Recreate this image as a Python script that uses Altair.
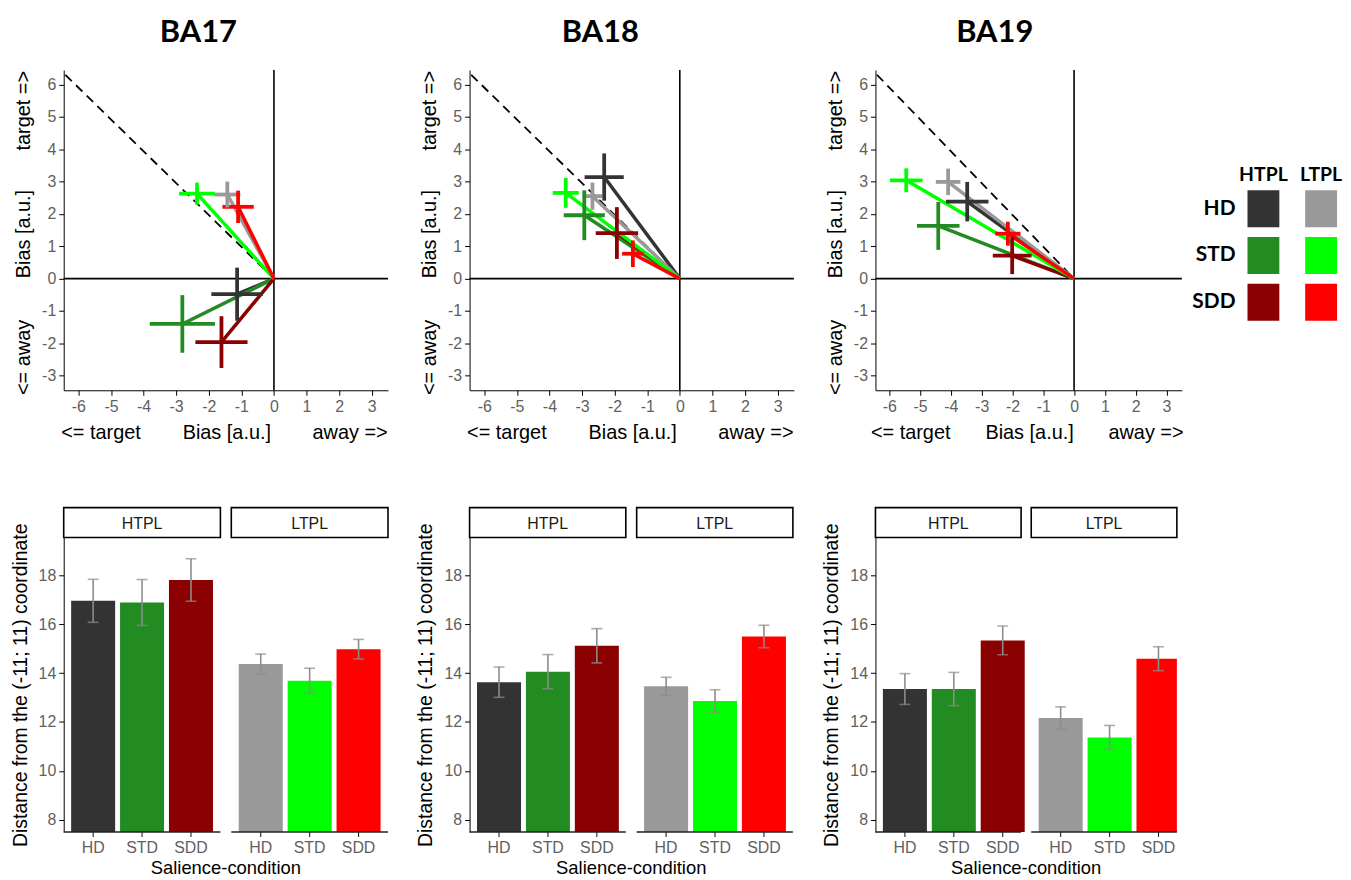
import altair as alt
import pandas as pd

REGIONS = ["BA17", "BA18", "BA19"]
TPLS = ["HTPL", "LTPL"]
CONDS = ["HD", "STD", "SDD"]
HTPL_COLORS = ["#333333", "#228B22", "#8B0000"]
LTPL_COLORS = ["#999999", "#00FF00", "#FF0000"]

# ---- bias (top) panels: order HD, STD, SDD ----
BA17_HTPL_X = [-1.13, -2.81, -1.61]
BA17_HTPL_Y = [-0.48, -1.40, -1.96]
BA17_HTPL_XERR = [0.79, 1.00, 0.80]
BA17_HTPL_YERR = [0.82, 0.89, 0.80]
BA17_LTPL_X = [-1.43, -2.36, -1.10]
BA17_LTPL_Y = [2.60, 2.63, 2.22]
BA17_LTPL_XERR = [0.40, 0.55, 0.48]
BA17_LTPL_YERR = [0.40, 0.34, 0.50]

BA18_HTPL_X = [-2.32, -2.93, -1.93]
BA18_HTPL_Y = [3.14, 1.96, 1.41]
BA18_HTPL_XERR = [0.60, 0.63, 0.65]
BA18_HTPL_YERR = [0.73, 0.77, 0.80]
BA18_LTPL_X = [-2.68, -3.50, -1.44]
BA18_LTPL_Y = [2.55, 2.65, 0.77]
BA18_LTPL_XERR = [0.30, 0.40, 0.33]
BA18_LTPL_YERR = [0.42, 0.46, 0.41]

BA19_HTPL_X = [-3.47, -4.41, -2.01]
BA19_HTPL_Y = [2.38, 1.63, 0.71]
BA19_HTPL_XERR = [0.69, 0.69, 0.63]
BA19_HTPL_YERR = [0.61, 0.74, 0.57]
BA19_LTPL_X = [-4.09, -5.45, -2.15]
BA19_LTPL_Y = [2.99, 3.04, 1.39]
BA19_LTPL_XERR = [0.40, 0.53, 0.41]
BA19_LTPL_YERR = [0.41, 0.37, 0.37]

# ---- distance (bottom) panels ----
BA17_HTPL_MEAN = [16.96, 16.89, 17.81]
BA17_HTPL_SE = [0.88, 0.94, 0.87]
BA17_LTPL_MEAN = [14.37, 13.69, 14.98]
BA17_LTPL_SE = [0.41, 0.51, 0.40]
BA18_HTPL_MEAN = [13.63, 14.06, 15.12]
BA18_HTPL_SE = [0.62, 0.70, 0.70]
BA18_LTPL_MEAN = [13.46, 12.86, 15.50]
BA18_LTPL_SE = [0.37, 0.46, 0.46]
BA19_HTPL_MEAN = [13.35, 13.35, 15.34]
BA19_HTPL_SE = [0.63, 0.68, 0.59]
BA19_LTPL_MEAN = [12.16, 11.37, 14.59]
BA19_LTPL_SE = [0.46, 0.49, 0.49]

DIAG_X = [-6.4, 0.0]
DIAG_Y = [6.3, 0.0]
BIAS_TICKS_X = [-6, -5, -4, -3, -2, -1, 0, 1, 2, 3]
BIAS_TICKS_Y = [-3, -2, -1, 0, 1, 2, 3, 4, 5, 6]
DIST_TICKS = [8, 10, 12, 14, 16, 18]

G = globals()
COLS = {"HTPL": HTPL_COLORS, "LTPL": LTPL_COLORS}

bias_rows, dist_rows = [], []
for r in REGIONS:
    for t in TPLS:
        xs = G[f"{r}_{t}_X"]; ys = G[f"{r}_{t}_Y"]
        xe = G[f"{r}_{t}_XERR"]; ye = G[f"{r}_{t}_YERR"]
        ms = G[f"{r}_{t}_MEAN"]; se = G[f"{r}_{t}_SE"]
        for i, c in enumerate(CONDS):
            bias_rows.append(dict(region=r, tpl=t, cond=c, color=COLS[t][i],
                                  ox=0.0, oy=0.0, x=xs[i], y=ys[i],
                                  xlo=xs[i] - xe[i], xhi=xs[i] + xe[i],
                                  ylo=ys[i] - ye[i], yhi=ys[i] + ye[i]))
            dist_rows.append(dict(region=r, tpl=t, cond=c, color=COLS[t][i],
                                  mean=ms[i], lo=ms[i] - se[i], hi=ms[i] + se[i]))
bias_df = pd.DataFrame(bias_rows)
dist_df = pd.DataFrame(dist_rows)

GRAY = "#5f5f5f"
FONT = "Liberation Sans"
TOP_H = 322
BOT_H = 296


def label(text, x, y, size=20, angle=0, color="black", font=FONT, weight="normal", align="center"):
    kw = dict(text=text, fontSize=size, color=color, font=font, fontWeight=weight,
              align=align, baseline="middle")
    if angle:
        kw["angle"] = angle
    return alt.Chart(pd.DataFrame({"k": [0]})).mark_text(**kw).encode(
        x=alt.value(x), y=alt.value(y))


def num_axis(values):
    return alt.Axis(values=values, title=None, grid=False, domainColor="black",
                    tickColor="black", labelColor=GRAY, labelFontSize=16, labelFont=FONT,
                    tickSize=5, labelPadding=3, labelFlush=False, labelOverlap=False,
                    labelExpr="'' + datum.value")


def bias_panel(region, width, dx):
    d = bias_df[bias_df.region == region]
    xsc = alt.Scale(domain=[-6.45, 3.5], nice=False, zero=False)
    ysc = alt.Scale(domain=[-3.45, 6.45], nice=False, zero=False)
    xax = num_axis(BIAS_TICKS_X)
    yax = num_axis(BIAS_TICKS_Y)

    def X(f):
        return alt.X(f, scale=xsc, axis=xax)

    def Y(f):
        return alt.Y(f, scale=ysc, axis=yax)

    zero = pd.DataFrame({"v": [0.0]})
    vline = alt.Chart(zero).mark_rule(color="black", strokeWidth=1.6).encode(x=X("v:Q"))
    hline = alt.Chart(zero).mark_rule(color="black", strokeWidth=1.6).encode(y=Y("v:Q"))
    diag = alt.Chart(pd.DataFrame({"dx": DIAG_X, "dy": DIAG_Y})).mark_line(
        color="black", strokeDash=[9, 6], strokeWidth=1.8).encode(x=X("dx:Q"), y=Y("dy:Q"))
    col = alt.Color("color:N", scale=None)
    lines = alt.Chart(d).mark_rule(strokeWidth=3.5).encode(
        x=X("ox:Q"), y=Y("oy:Q"), x2="x:Q", y2="y:Q", color=col)
    hbar = alt.Chart(d).mark_rule(strokeWidth=3.8).encode(
        x=X("xlo:Q"), x2="xhi:Q", y=Y("y:Q"), color=col)
    vbar = alt.Chart(d).mark_rule(strokeWidth=3.8).encode(
        x=X("x:Q"), y=Y("ylo:Q"), y2="yhi:Q", color=col)
    texts = [
        label("<= target", width * 0.115, TOP_H + 43),
        label("Bias [a.u.]", width * 0.503, TOP_H + 43),
        label("away =>", width * 0.883, TOP_H + 43),
        label("target =>", -40, 41, angle=270),
        label("Bias [a.u.]", -40, 165, angle=270),
        label("<= away", -40, 289, angle=270),
    ]
    return alt.layer(vline, hline, diag, lines, hbar, vbar, *texts).properties(
        width=width, height=TOP_H,
        title=alt.TitleParams(region, fontSize=31, font="Lato", fontWeight="bold",
                              anchor="middle", frame="bounds", offset=20, dx=dx,
                              color="black"))


def dist_panel(region, width):
    d = dist_df[dist_df.region == region]
    xsc = alt.Scale(domain=TPLS, paddingInner=0.065, paddingOuter=0)
    xo = alt.Scale(domain=CONDS, paddingInner=0.1, paddingOuter=0.152)
    ysc = alt.Scale(domain=[7.5, 19.55], nice=False, zero=False)
    yax = alt.Axis(values=DIST_TICKS, grid=False, domainColor="black",
                   tickColor="black", labelColor=GRAY, labelFontSize=16,
                   labelFont=FONT, tickSize=5, labelPadding=3, labelOverlap=False,
                   title="Distance from the (-11; 11) coordinate",
                   titleFontSize=19.5, titleFont=FONT, titleColor="black",
                   titleFontWeight="normal", titlePadding=8)
    X = alt.X("tpl:N", scale=xsc, axis=None)
    XO = alt.XOffset("cond:N", scale=xo)

    def Y(f):
        return alt.Y(f, scale=ysc, axis=yax)

    col = alt.Color("color:N", scale=None)
    bars = alt.Chart(d).mark_bar(clip=True).encode(x=X, xOffset=XO, y=Y("mean:Q"), color=col)
    err = alt.Chart(d).mark_rule(color="#8c8c8c", strokeWidth=1.6).encode(
        x=X, xOffset=XO, y=Y("lo:Q"), y2="hi:Q")
    cap_lo = alt.Chart(d).mark_tick(color="#8c8c8c", thickness=1.6, size=11, orient="horizontal").encode(
        x=X, xOffset=XO, y=Y("lo:Q"))
    cap_hi = alt.Chart(d).mark_tick(color="#8c8c8c", thickness=1.6, size=11, orient="horizontal").encode(
        x=X, xOffset=XO, y=Y("hi:Q"))
    tdf = pd.DataFrame({"tpl": TPLS})
    strip = alt.Chart(tdf).mark_rect(fill="white", stroke="black", strokeWidth=1.6).encode(
        x=X, y=alt.value(-30), y2=alt.value(0))
    strip_t = alt.Chart(tdf).mark_text(fontSize=16, font=FONT, color="#1a1a1a", baseline="middle").encode(
        x=X, y=alt.value(-14), text="tpl:N")
    baseline = alt.Chart(tdf).mark_rect(fill="#222222").encode(
        x=X, y=alt.value(BOT_H - 0.6), y2=alt.value(BOT_H + 0.8))
    ticks = alt.Chart(d).mark_rule(color="#222222", strokeWidth=1.1).encode(
        x=X, xOffset=XO, y=alt.value(BOT_H), y2=alt.value(BOT_H + 5))
    tlabels = alt.Chart(d).mark_text(fontSize=16, font=FONT, color=GRAY, baseline="middle").encode(
        x=X, xOffset=XO, y=alt.value(BOT_H + 16), text="cond:N")
    xtitle = label("Salience-condition", width / 2, BOT_H + 36, size=18.5)
    return alt.layer(bars, err, cap_lo, cap_hi, strip, strip_t, baseline, ticks, tlabels, xtitle).properties(
        width=width, height=BOT_H)


# legend grid
leg_df = pd.DataFrame([dict(tpl=t, cond=c, color=COLS[t][i])
                       for t in TPLS for i, c in enumerate(CONDS)])
lx = alt.Scale(domain=TPLS, range=[-29, 87], paddingInner=0.448, paddingOuter=0.224)
ly = alt.Scale(domain=CONDS, range=[121, 252], paddingInner=0.213, paddingOuter=0)
leg_sq = alt.Chart(leg_df).mark_rect().encode(
    x=alt.X("tpl:N", scale=lx, axis=None), y=alt.Y("cond:N", scale=ly, axis=None),
    color=alt.Color("color:N", scale=None))
leg_hdr = alt.Chart(pd.DataFrame({"tpl": TPLS})).mark_text(
    font="Lato", fontWeight="bold", fontSize=19.5, color="black", baseline="middle").encode(
    x=alt.X("tpl:N", scale=lx, axis=None), y=alt.value(106), text="tpl:N")
leg_row = alt.Chart(pd.DataFrame({"cond": CONDS})).mark_text(
    font="Lato", fontWeight="bold", fontSize=21, color="black", baseline="middle", align="right").encode(
    x=alt.value(-28), y=alt.Y("cond:N", scale=ly, axis=None), text="cond:N")
legend = alt.layer(leg_sq, leg_hdr, leg_row).properties(width=60, height=TOP_H)

chart = alt.concat(
    bias_panel("BA17", 326, -3), bias_panel("BA18", 326, -7), bias_panel("BA19", 308, -10), legend,
    dist_panel("BA17", 326), dist_panel("BA18", 325), dist_panel("BA19", 303),
    columns=4, spacing={"row": 148, "column": 82}, bounds="flush", align="each",
).properties(
    padding={"left": 2, "top": 7, "right": 0, "bottom": 0}, background="white"
).configure_view(stroke=None, strokeWidth=0)

chart.save("out.html", embed_options={"renderer": "svg", "actions": False})
